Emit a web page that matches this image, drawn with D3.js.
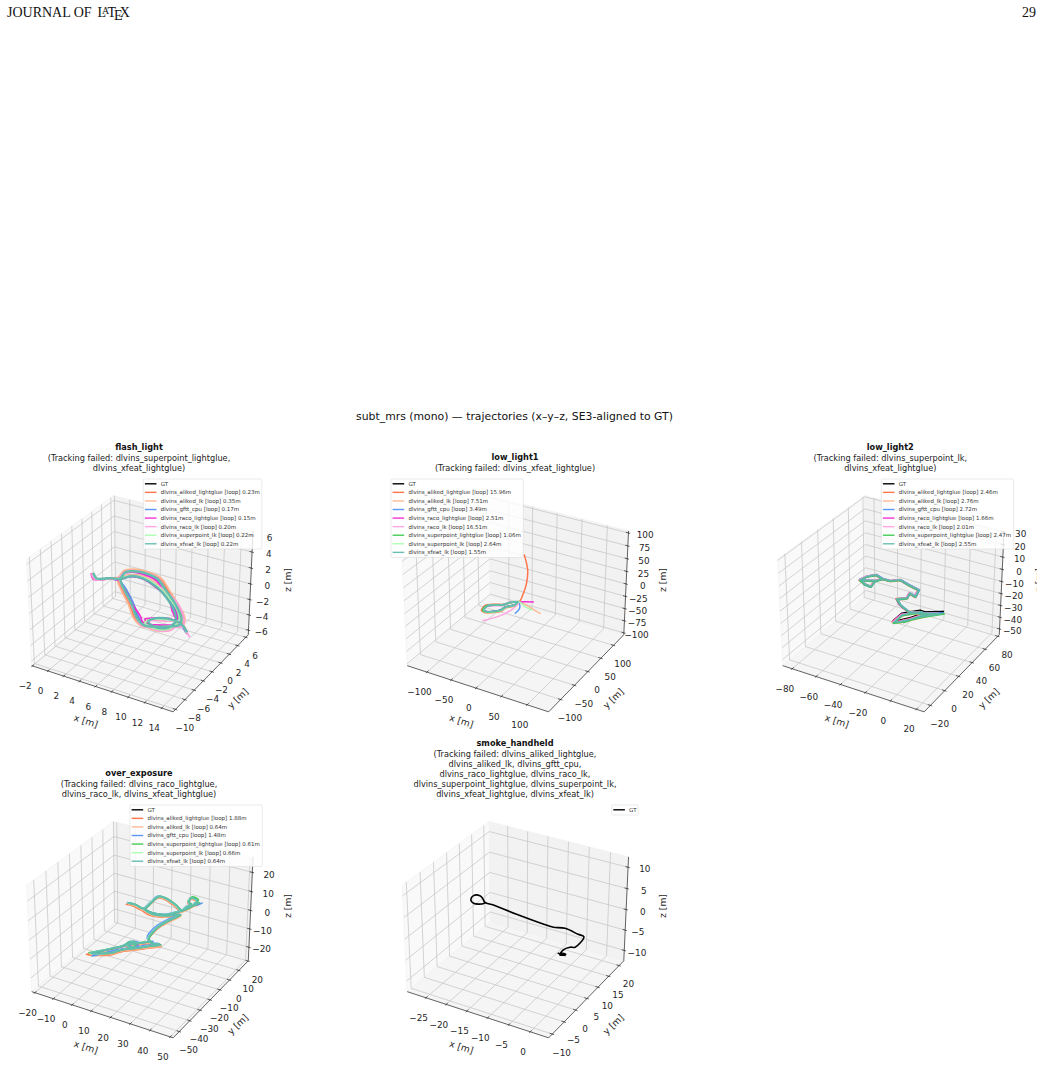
<!DOCTYPE html>
<html>
<head>
<meta charset="utf-8">
<script src="https://cdn.jsdelivr.net/npm/d3@7/dist/d3.min.js"></script>
<style>
  html, body { margin: 0; padding: 0; background: #fff; }
  svg { display: block; }
  text { font-family: "DejaVu Sans", sans-serif; }
</style>
</head>
<body>
<svg id="page" width="1042" height="1066"></svg>
<script>
// ---- Trajectory estimates: [x, y] in metres, height comes from the *Heights list or a third entry ----
const flashHeights = [.6,.3,.2,.2,.2,.8,.9,.8,.5,.2,-.3,-.8,-1,-1.1,-1.1,-1,-.8,-.4,-.1,.2,.5,.6,.5,.2,-.1,-.5,-.8,-.8,-.8,-.9,-1.1,-1.1,-.9,-1,-1.3];
const flashGT = [[-0.3,-0.9],[0.1,-1.2],[0.4,-1.1],[1.5,-0.2],[2.5,0.2],[2.8,0.8],[3.6,1.3],[4.8,1.7],[6.4,1.7],[8.0,0.5],[10.1,-1.0],[11.5,-2.3],[11.9,-3.2],[11.1,-3.8],[10.0,-4.5],[8.8,-5.1],[7.6,-4.5],[5.8,-2.7],[4.0,-1.1],[2.6,0.1],[3.1,0.4],[3.8,0.9],[5.1,1.2],[7.1,0.7],[8.9,-0.3],[10.7,-1.7],[11.5,-2.8],[10.4,-3.2],[9.1,-3.9],[8.7,-4.7],[10.0,-5.0],[11.3,-4.2],[11.6,-3.0],[12.1,-3.0],[13.1,-3.7]];
const flashAlikedLg = [[-0.3,-0.8],[0.1,-1.1],[0.5,-1.0],[1.5,-0.1],[2.3,0.4],[2.6,1.0],[3.5,1.6],[4.9,2.0],[6.6,2.0],[8.2,0.8],[10.3,-0.8],[11.8,-2.1],[12.2,-3.1],[11.3,-4.0],[10.1,-4.7],[8.7,-5.3],[7.4,-4.7],[5.6,-2.9],[3.8,-1.3],[2.4,0.1],[3.0,0.6],[3.7,1.1],[5.0,1.4],[7.2,0.9],[9.0,-0.1],[10.9,-1.5],[11.7,-2.7],[10.5,-3.4],[9.0,-4.1],[8.6,-4.9],[10.1,-5.2],[11.5,-4.4],[11.8,-3.1],[12.3,-3.1],[13.2,-3.9]];
const flashAlikedLk = [[-0.4,-0.9],[0,-1.3],[0.5,-1.2],[1.5,-0.3],[2.2,0.3],[2.5,1.1],[3.4,1.8],[4.9,2.2],[6.7,2.1],[8.3,0.9],[10.4,-0.7],[11.9,-2.0],[12.3,-3.0],[11.4,-4.1],[10.1,-4.8],[8.7,-5.5],[7.3,-4.8],[5.5,-3.0],[3.7,-1.4],[2.3,0.1],[2.9,0.6],[3.7,1.2],[5.1,1.5],[7.3,1.0],[9.1,0.0],[11.0,-1.4],[11.8,-2.7],[10.6,-3.5],[9.0,-4.2],[8.5,-5.0],[10.1,-5.4],[11.6,-4.5],[11.9,-3.2],[12.4,-3.2],[13.2,-3.9]];
const flashGftt = [[-0.3,-1.0],[0.2,-1.2],[0.4,-1.2],[1.4,-0.3],[2.5,0.1],[2.9,0.8],[3.7,1.2],[4.9,1.6],[6.5,1.6],[8.0,0.4],[10.0,-1.1],[11.4,-2.4],[11.8,-3.3],[11.0,-3.9],[9.9,-4.5],[8.9,-5.0],[7.7,-4.4],[5.9,-2.6],[4.1,-1.0],[2.7,0.1],[3.2,0.4],[3.9,0.8],[5.2,1.1],[7.1,0.6],[8.8,-0.4],[10.6,-1.8],[11.4,-2.9],[10.3,-3.3],[9.2,-3.8],[8.8,-4.6],[10.0,-4.9],[11.2,-4.1],[11.5,-3.1],[12.0,-3.1],[13.0,-3.8]];
const flashRacoLg = [[-0.4,-1.0],[0,-1.3],[0.4,-1.2],[1.6,-0.3],[2.6,0.2],[2.9,0.7],[3.6,1.2],[4.7,1.5],[6.3,1.5],[8.1,0.4],[10.2,-1.1],[11.3,-2.5],[11.9,-3.4],[11.0,-3.7],[9.9,-4.3],[8.5,-4.9],[7.8,-4.2],[6.0,-2.9],[4.2,-1.3],[2.7,0.0],[3.2,0.3],[3.8,0.8],[5.0,1.0],[7.0,0.5],[9.1,-0.5],[10.4,-2.0],[11.4,-3.0],[10.5,-3.0],[9.3,-3.6],[8.3,-4.2],[9.8,-4.7],[11.4,-4.0],[11.7,-3.0],[12.2,-3.2],[13.3,-4.0]];
const flashRacoLk = [[-0.4,-1.0],[0.2,-1.3],[0.5,-1.2],[1.5,-0.3],[2.3,0.3],[2.7,0.9],[3.5,1.5],[4.9,1.9],[6.5,1.9],[8.1,0.6],[10.4,-0.7],[11.9,-2.2],[12.4,-3.3],[11.4,-4.0],[10.1,-4.8],[8.6,-5.4],[7.5,-4.6],[5.7,-2.8],[3.9,-1.2],[2.5,0.2],[3.0,0.5],[3.8,1.0],[5.2,1.3],[7.3,0.8],[9.2,-0.1],[10.9,-1.4],[11.8,-2.6],[10.6,-3.5],[9.2,-4.2],[8.7,-5.0],[10.2,-5.3],[11.6,-4.5],[12.0,-3.3],[12.6,-3.5],[13.8,-4.4]];
const flashSpLk = [[-0.2,-0.9],[0.2,-1.1],[0.5,-1.0],[1.5,-0.2],[2.5,0.3],[2.9,0.9],[3.7,1.4],[4.9,1.8],[6.4,1.8],[8.0,0.6],[10.2,-0.9],[11.6,-2.2],[12.0,-3.1],[11.2,-3.8],[10.0,-4.6],[8.8,-5.2],[7.6,-4.6],[5.8,-2.8],[4.0,-1.2],[2.6,0.2],[3.1,0.5],[3.9,1.0],[5.1,1.3],[7.1,0.8],[8.9,-0.2],[10.8,-1.6],[11.6,-2.8],[10.4,-3.3],[9.0,-4.0],[8.7,-4.8],[10.1,-5.1],[11.4,-4.3],[11.7,-3.1],[12.2,-3.1],[13.1,-3.8]];
const flashXfLk = [[-0.2,-0.8],[0.2,-1.0],[0.5,-0.9],[1.6,-0.1],[2.5,0.3],[2.8,0.9],[3.6,1.4],[4.8,1.8],[6.4,1.8],[8.1,0.6],[10.2,-0.9],[11.6,-2.2],[12.0,-3.2],[11.2,-3.9],[10.1,-4.6],[8.8,-5.2],[7.6,-4.6],[5.8,-2.8],[4.0,-1.2],[2.7,0.1],[3.2,0.4],[3.8,0.9],[5.0,1.1],[7.0,0.6],[8.8,-0.4],[10.5,-1.8],[11.3,-2.9],[10.3,-3.1],[9.2,-3.7],[8.9,-4.5],[9.9,-4.8],[11.2,-4.1],[11.5,-3.0],[12.0,-3.0],[13.0,-3.6]];

const low1Heights = [];
const low1GT = [[7,-9],[7,-22],[-3,-37],[-4,-48],[-13,-60],[-26,-67],[-31,-64],[-33,-49],[-22,-39],[-10,-32],[-4,-19],[7,-9]];
const low1AlikedLg = [[8,-9],[9,-23],[-1,-39],[-2,-50],[-12,-63],[-26,-70],[-33,-67],[-36,-49],[-24,-37],[-10,-29],[-3,-16],[8,-9],[13,-2,15],[18,0,35],[19,2,60],[15,-3,90]];
const low1AlikedLk = [[7,-8],[8,-24],[-2,-38],[-3,-49],[-12,-62],[-25,-68],[-32,-65],[-34,-50],[-23,-39],[-9,-32],[-3,-18],[7,-8],[20,-11],[34,-16],[59,-25]];
const low1Gftt = [[6,-10],[6,-23],[-4,-37],[-5,-48],[-14,-60],[-27,-66],[-32,-63],[-33,-48],[-22,-38],[-11,-31],[-5,-19],[6,-10],[14,-17],[20,-28],[22,-46]];
const low1RacoLg = [[7,-10],[7,-21],[-3,-36],[-4,-47],[-13,-59],[-26,-66],[-30,-63],[-32,-49],[-21,-40],[-10,-33],[-4,-20],[7,-10],[18,-3],[30,3]];
const low1RacoLk = [[8,-10],[6,-23],[-2,-37],[-4,-49],[-14,-61],[-27,-67],[-31,-65],[-33,-50],[-23,-40],[-11,-33],[-4,-18],[8,-10],[11,-33],[5,-63],[-13,-95]];
const low1SpLg = [[7,-9],[7,-23],[-3,-38],[-4,-49],[-13,-61],[-26,-68],[-32,-65],[-34,-49],[-22,-40],[-10,-32],[-4,-20],[7,-9]];
const low1SpLk = [[7,-8],[7,-22],[-2,-37],[-3,-48],[-12,-60],[-25,-67],[-30,-64],[-32,-48],[-21,-38],[-9,-31],[-3,-18],[7,-8],[16,-12],[25,-18],[41,-22]];
const low1XfLk = [[6,-9],[7,-21],[-3,-36],[-5,-48],[-13,-59],[-25,-66],[-30,-63],[-32,-48],[-21,-38],[-10,-31],[-4,-19],[6,-9]];

const low2Heights = [-5,-5,-5,-5,-5,-5,-5,-5,-5,-5,-6,-7,-9,-11,-13,-14,-15,-16,-20,-24,-26,-28,-28,-28,-28,-28,-28,-28,-28];
const low2GT = [[-58.4,27.5],[-56.8,33.9],[-52.3,39.2],[-45.4,36.5],[-48.4,31.5],[-46.9,23.2],[-52.1,24.1],[-58.4,27.5],[-48.4,31.5],[-45.4,36.5],[-40.1,38.2],[-35.6,44.4],[-28.6,44.1],[-20.6,44.4],[-19.7,38.1],[-26.4,41.7],[-25.3,36.3],[-31.8,33.4],[-29.0,33.2],[-22.6,33.9],[-17.0,38.3,-25],[-3.1,49.8,-26.6],[-14.2,38.3,-26.6],[-24.1,24.9,-26.6],[-27.8,21.9,-26.6],[-27.7,33.4,-26.6],[-18.4,43.3,-26.6],[-13.3,43.0,-26.6],[-22.1,26.1,-26.6]];
const low2AlikedLg = [[-59,27.9],[-57.2,34.5],[-52.6,39.8],[-45.7,37],[-48.9,31.9],[-47.4,23.5],[-52.6,24.4],[-59,27.9],[-48.9,31.9],[-45.7,37],[-40.5,38.8],[-36,45],[-28.9,44.7],[-20.8,45],[-19.2,38.4],[-26,42.3],[-25,36.9],[-32.4,33.7],[-29.5,33.6],[-23.2,34.5],[-17.6,38.9],[-6,48.6],[-14.8,38.9],[-24.8,25.4],[-28.8,22],[-28.2,33.9],[-18.9,43.8],[-13.9,43.6],[-22.9,26.5]];
const low2AlikedLk = [[-58.9,26.8],[-57.4,33.4],[-52.7,38.8],[-45.1,35.9],[-48,30.8],[-46.3,22.4],[-51.7,23.4],[-58.9,26.8],[-48,30.8],[-45.1,35.9],[-39.6,37.5],[-35,43.7],[-27.9,43.4],[-19.6,43.5],[-18.5,36.9],[-25.6,40.8],[-24.5,35.2],[-31,32.2],[-27,31.8],[-20.4,32.4],[-15.8,37.2],[-5.9,47.4],[-13.2,37.2],[-23.2,24],[-27.4,21.1],[-26.8,32.6],[-17.6,42.4],[-12.6,42.2],[-21.3,25.2]];
const low2Gftt = [[-59.2,28.5],[-57,35],[-52,40],[-44.7,37.2],[-48,32],[-46.5,22.5],[-52.4,23.3],[-59.2,28.5],[-48,32],[-44.7,37.2],[-39.6,38.8],[-35.2,45],[-28,44.8],[-20,45],[-19,38.7],[-25.9,42.2],[-24.9,36.7],[-31.4,33.8],[-28.6,33.6],[-22.2,34.3],[-16.6,38.7],[-3.6,50.2],[-13.8,38.7],[-23.7,25.3],[-27.4,22.3],[-27.3,33.8],[-18,43.7],[-12.9,43.4],[-21.7,26.5]];
const low2RacoLg = [[-58.6,27.2],[-57,33.5],[-52.5,38.9],[-45.6,36.2],[-48.7,31.2],[-47.1,23.5],[-52.3,24.4],[-58.6,27.2],[-48.7,31.2],[-45.6,36.2],[-40.3,37.9],[-35.8,44],[-28.8,43.8],[-20.9,44.1],[-20,37.8],[-26.6,41.4],[-25.6,36],[-32,33.2],[-29.3,33],[-23,33.6],[-17.3,38],[-6,47.5],[-14.6,38],[-24.6,25.6],[-28.6,23],[-28.4,34],[-19,42.9],[-14,42.6],[-22.7,26.8]];
const low2RacoLk = [[-58.8,28],[-57.2,34.3],[-52.6,39.5],[-45.8,36.8],[-48.7,31.8],[-47.2,23.6],[-52.4,24.5],[-58.8,28],[-48.7,31.8],[-45.8,36.8],[-40.4,38.5],[-35.9,44.7],[-28.9,44.4],[-21,44.7],[-20,38.4],[-26.7,42],[-25.6,36.6],[-32.1,33.7],[-29.3,33.5],[-22.9,34.2],[-17.3,38.6],[-6.4,48],[-14.5,38.6],[-24.4,25.3],[-28.2,22.3],[-28.1,33.8],[-18.7,43.6],[-13.6,43.3],[-22.5,26.5]];
const low2SpLg = [[-58.2,26.8],[-56.5,33.3],[-52,38.7],[-45,36],[-47.9,30.8],[-46.4,22.6],[-51.7,23.4],[-58.2,26.8],[-47.9,30.8],[-45,36],[-39.7,37.7],[-35.2,43.9],[-28.1,43.6],[-20,43.8],[-19.1,37.5],[-25.9,41.1],[-24.8,35.7],[-31.4,32.6],[-28.2,32.6],[-21.8,33.3],[-16.1,37.7],[-2,49.3],[-13.4,37.5],[-23.2,24.2],[-27.1,20.7],[-26.8,32.8],[-17.6,42.6],[-12.3,42.4],[-21.2,25.3]];
const low2XfLk = [[-58.1,27.7],[-56.5,34.1],[-52.1,39.4],[-45.1,36.7],[-48.2,31.7],[-46.6,23.4],[-51.8,24.3],[-58.1,27.7],[-48.2,31.7],[-45.1,36.7],[-39.8,38.4],[-35.3,44.6],[-28.3,44.3],[-20.3,44.6],[-19.4,38.3],[-26.1,41.9],[-25,36.5],[-31.5,33.6],[-28.7,33.4],[-22.3,34.1],[-16.7,38.5],[-4,48.4],[-13.9,38.5],[-23.8,25.1],[-27.5,22.1],[-27.4,33.6],[-18.1,43.5],[-13,43.2],[-21.8,26.3]];

const overHeights = [10,10,10,10,10,10,10,10,10,10,10,10,10,10,10,10,10,10,10,10,10,10,10,8,3,-3,-9,-13,-15,-15,-15,-15,-15,-15,-15,-15,-15,-15,-15,-15,-15,-15,-15,-15];
const overGT = [[8.3,-18.8],[11.7,-18.6],[16.8,-20.0],[16.8,-13.7],[17.0,-6.2],[20.3,-6.0],[27.3,-9.3],[32.5,-12.7],[32.5,-8.0],[35.0,-4.6],[35.6,-2.4],[34.0,-6.0],[31.0,-3.4],[30.8,0.3],[33.9,-0.8],[34.4,-5.0],[32.5,-12.7],[31.1,-15.0],[27.8,-19.9],[21.9,-21.5],[16.9,-20.2],[22.4,-22.3],[28.2,-20.7],[31.9,-13.2],[26.1,-11.7],[19.5,-10.6],[14.8,-8.4],[12.4,-7.3],[14.0,-7.8],[18.5,-6.9],[13.9,-11.5],[10.6,-15.2],[5.4,-20.1],[2.3,-25.5],[-5.6,-30.2],[-2.7,-26.1],[1.3,-20.8],[4.1,-16.3],[5.0,-11.5],[7.7,-11.5],[8.6,-16.4],[5.2,-14.9],[9.0,-10.8],[13.0,-6.6]];
const overAlikedLg = [[8,-20],[11.5,-19.8],[16.6,-21],[16.8,-14.8],[17.4,-7.4],[20.7,-7],[27.5,-10.2],[32.6,-13.4],[32.8,-8.8],[35.3,-5.6],[36,-3.4],[34.2,-6.8],[31.2,-4.2],[31,-0.5],[34.1,-1.6],[34.6,-5.8],[32.7,-13.4],[31.2,-15.8],[27.8,-21],[21.7,-22.7],[16.7,-21.2],[22.2,-23.6],[28.2,-22],[32.1,-14.2],[26.6,-12.8],[20.1,-11.7],[15.4,-9.6],[13,-8.6],[14.8,-9],[19.6,-7.8],[15,-12.5],[11.6,-16],[6.2,-21.4],[3,-27],[-6.5,-32],[-3.4,-27.4],[0.8,-22.4],[3.6,-17.8],[5.4,-13],[8.6,-12.6],[9.6,-17.8],[5.8,-16.2],[9.8,-12],[14,-7.8]];
const overAlikedLk = [[8.8,-19.4],[12.2,-19.3],[17.3,-20.9],[17.4,-14.4],[17.6,-7],[20.9,-6.7],[27.9,-10],[33.3,-13.2],[33.3,-8.7],[35.7,-5.4],[36.3,-3.1],[34.6,-6.6],[31.6,-4],[31.4,-0.4],[34.5,-1.5],[35,-5.6],[33.2,-13.3],[31.8,-15.7],[28.4,-20.6],[22.4,-22.2],[17.3,-20.9],[23,-23.1],[28.9,-21.5],[32.7,-14],[26.9,-12.5],[20.3,-11.4],[15.4,-9.2],[13,-8],[14.7,-8.5],[19.4,-7.7],[14.8,-12.2],[11.4,-15.9],[6,-20.9],[2.9,-26.4],[-5,-31],[-2,-26.9],[2,-21.6],[4.8,-17],[5.8,-12.3],[8.4,-12.2],[9.3,-17.1],[5.9,-15.6],[9.7,-11.5],[13.8,-7.3]];
const overGftt = [[7.7,-18.2],[11.2,-18.1],[16.4,-19.6],[16.4,-13.2],[16.6,-5.8],[19.9,-5.6],[26.9,-8.9],[32.1,-12.2],[32.2,-7.4],[35.8,-3.8],[37,-1.4],[34.8,-5.2],[30.7,-2.9],[30.4,0.8],[33.6,-0.2],[34,-4.5],[32.1,-12.2],[30.7,-14.5],[27.4,-19.3],[21.5,-21],[16.5,-19.7],[22,-21.8],[27.8,-20.2],[31.4,-12.7],[25.2,-11],[18.5,-9.8],[13.6,-7.4],[11.4,-6.4],[13.2,-7],[17.6,-6.1],[12.9,-10.7],[9.7,-14.6],[4.7,-19.4],[0.9,-25],[-3.5,-32],[-1.7,-25.2],[2.2,-19.9],[5.2,-15.2],[6.2,-10.2],[9,-10.4],[9.6,-15.6],[6.2,-13.8],[10.2,-9.7],[14,-5.6]];
const overSpLg = [[8.6,-18.4],[12,-18.2],[17.1,-19.6],[17.1,-13.3],[17.3,-5.8],[20.6,-5.6],[27.6,-8.9],[32.8,-12.3],[32.9,-7.4],[35.4,-4],[36,-1.8],[34.4,-5.4],[30.7,-2.4],[30.4,1.6],[34.1,0.5],[34.8,-4.3],[32.8,-12.3],[31.4,-14.6],[28.1,-19.5],[22.2,-21.1],[17.2,-19.8],[22.7,-21.9],[28.5,-20.3],[32.2,-12.8],[26.4,-11.3],[19.8,-10.2],[15.1,-8],[12.7,-6.9],[14.3,-7.4],[18.8,-6.5],[14.2,-11.1],[10.9,-14.8],[5.7,-19.7],[2.6,-25.1],[-6.4,-30],[-2.4,-25.7],[1.6,-20.4],[4.4,-15.9],[5.3,-11.1],[8,-11.1],[8.9,-16],[5.5,-14.5],[9.3,-10.4],[13.3,-6.2]];
const overSpLk = [[8.1,-18.6],[11.5,-18.3],[16.6,-19.8],[16.6,-13.5],[16.8,-6],[20.1,-5.8],[27.1,-9.1],[32.3,-12.5],[32.3,-7.8],[34.8,-4.4],[35.4,-2.2],[33.8,-5.8],[30.8,-3.2],[30.6,0.5],[33.7,-0.6],[34.2,-4.8],[32.3,-12.5],[30.9,-14.8],[27.6,-19.7],[21.7,-21.3],[16.7,-20],[22.2,-22.1],[28,-20.5],[31.7,-13],[25.9,-11.5],[19.3,-10.4],[14.6,-8.2],[12.2,-7.1],[13.8,-7.6],[18.3,-6.7],[13.7,-11.3],[10.4,-15],[5.2,-19.9],[2.1,-25.3],[-5.8,-30.4],[-2.9,-25.9],[1.1,-20.6],[3.9,-16.1],[4.8,-11.3],[7.5,-11.3],[8.4,-16.2],[5,-14.7],[8.8,-10.6],[12.8,-6.4]];
const overXfLk = [[8.4,-18.4],[11.8,-18.2],[16.9,-19.6],[17,-13.4],[17.2,-5.9],[20.5,-5.7],[27.4,-9],[32.6,-12.4],[32.7,-7.7],[35.1,-4.3],[35.7,-2.1],[34.1,-5.7],[31.1,-3.1],[30.9,0.6],[34,-0.5],[34.5,-4.7],[32.6,-12.4],[31.2,-14.7],[27.9,-19.6],[22,-21.2],[17,-19.9],[22.5,-22],[28.3,-20.4],[32,-12.9],[26.2,-11.4],[19.6,-10.3],[14.9,-8.1],[12.5,-7],[14.1,-7.5],[18.6,-6.6],[14,-11.2],[10.7,-14.9],[5.5,-19.8],[2.4,-25.2],[-5.5,-29.9],[-2.6,-25.8],[1.4,-20.5],[4.2,-16],[5.1,-11.2],[7.8,-11.2],[8.7,-16.1],[5.3,-14.6],[9.1,-10.5],[13.1,-6.3]];

const smokeHeights = [];
const smokeGT = [[0.3,-0.7],[1.9,-0.8],[0.9,-0.3],[1.8,-0.3],[0.9,-1.1],[0.5,0.9],[1.2,2.6],[2.1,3.1],[1.7,7.7],[0.2,8.0],[-3.3,8.8],[-5.6,8.0],[-6.8,8.0],[-15.0,8.9],[-21.3,9.9],[-23.5,10.0],[-24.9,11.3],[-26.0,12.0],[-27.2,11.3],[-26.7,9.4],[-25.4,8.4],[-23.5,9.3],[-23.5,10.0]];

// ---- Per-sequence legend errors (metres) and series tables ----
const flashErrors = ["0.23","0.35","0.17","0.15","0.20","0.22","0.22"];
const low1Errors  = ["15.96","7.51","3.49","2.51","16.51","1.06","2.64","1.55"];
const low2Errors  = ["2.46","2.76","2.72","1.66","2.01","2.47","2.55"];
const overErrors  = ["1.88","0.64","1.48","0.61","0.66","0.64"];

const methodColors = {
  dlvins_aliked_lightglue: "#ff6a3c",
  dlvins_aliked_lk: "#ffb48c",
  dlvins_gftt_cpu: "#4f8ff7",
  dlvins_raco_lightglue: "#f51fd2",
  dlvins_raco_lk: "#ff9fe0",
  dlvins_superpoint_lightglue: "#35c948",
  dlvins_superpoint_lk: "#a5ffaa",
  dlvins_xfeat_lk: "#5bb9ad"
};

const flashMethods = ["dlvins_aliked_lightglue","dlvins_aliked_lk","dlvins_gftt_cpu","dlvins_raco_lightglue","dlvins_raco_lk","dlvins_superpoint_lk","dlvins_xfeat_lk"];
const flashTracks = [flashAlikedLg, flashAlikedLk, flashGftt, flashRacoLg, flashRacoLk, flashSpLk, flashXfLk];
const low1Methods = ["dlvins_aliked_lightglue","dlvins_aliked_lk","dlvins_gftt_cpu","dlvins_raco_lightglue","dlvins_raco_lk","dlvins_superpoint_lightglue","dlvins_superpoint_lk","dlvins_xfeat_lk"];
const low1Tracks = [low1AlikedLg, low1AlikedLk, low1Gftt, low1RacoLg, low1RacoLk, low1SpLg, low1SpLk, low1XfLk];
const low2Methods = ["dlvins_aliked_lightglue","dlvins_aliked_lk","dlvins_gftt_cpu","dlvins_raco_lightglue","dlvins_raco_lk","dlvins_superpoint_lightglue","dlvins_xfeat_lk"];
const low2Tracks = [low2AlikedLg, low2AlikedLk, low2Gftt, low2RacoLg, low2RacoLk, low2SpLg, low2XfLk];
const overMethods = ["dlvins_aliked_lightglue","dlvins_aliked_lk","dlvins_gftt_cpu","dlvins_superpoint_lightglue","dlvins_superpoint_lk","dlvins_xfeat_lk"];
const overTracks = [overAlikedLg, overAlikedLk, overGftt, overSpLg, overSpLk, overXfLk];

// ---- Tick values per panel ----
const flashTicks = { x: d3.range(-2, 15, 2), y: d3.range(-10, 7, 2), z: d3.range(-6, 7, 2) };
const low1Ticks  = { x: d3.range(-100, 101, 50), y: d3.range(-100, 101, 50), z: d3.range(-100, 101, 25) };
const low2Ticks  = { x: d3.range(-80, 21, 20), y: d3.range(-20, 81, 20), z: d3.range(-50, 31, 10) };
const overTicks  = { x: d3.range(-20, 51, 10), y: d3.range(-50, 21, 10), z: d3.range(-20, 21, 10) };
const smokeTicks = { x: d3.range(-25, 1, 5), y: d3.range(-10, 21, 5), z: d3.range(-10, 11, 5) };

// ---- Panels: axis limits, screen anchor, heading lines, legend box, line weights ----
const panels = [
  { title: "flash_light", failed: ["(Tracking failed: dlvins_superpoint_lightglue,", "dlvins_xfeat_lightglue)"],
    titleX: 139, titleY: 450, anchor: [142, 598.5], lim: { x: [-2.1, 15.35], y: [-10.5, 6.6], z: [-6.6, 6.6] },
    ticks: flashTicks, gt: flashGT, heights: flashHeights, methods: flashMethods, tracks: flashTracks, errors: flashErrors,
    weight: 1.8, topWeight: 2.4, curve: d3.curveCatmullRom.alpha(0.5), legend: { x: 143.3, y: 479, w: 118.5 } },
  { title: "low_light1", failed: ["(Tracking failed: dlvins_xfeat_lightglue)"],
    titleX: 515, titleY: 460, anchor: [517.5, 598.5], lim: { x: [-141, 141], y: [-142, 142], z: [-104, 104] },
    ticks: low1Ticks, gt: low1GT, heights: low1Heights, methods: low1Methods, tracks: low1Tracks, errors: low1Errors,
    weight: 1.5, topWeight: 1.9, curve: d3.curveCatmullRom.alpha(0.5), legend: { x: 391, y: 479, w: 132.3 } },
  { title: "low_light2", failed: ["(Tracking failed: dlvins_superpoint_lk,", "dlvins_xfeat_lightglue)"],
    titleX: 890.3, titleY: 450, anchor: [893, 598.5], lim: { x: [-88, 26], y: [-28.5, 82.4], z: [-55, 31] },
    ticks: low2Ticks, gt: low2GT, heights: low2Heights, methods: low2Methods, tracks: low2Tracks, errors: low2Errors,
    weight: 1.6, topWeight: 1.8, curve: d3.curveLinear, legend: { x: 881.3, y: 479, w: 132.4 } },
  { title: "over_exposure", failed: ["(Tracking failed: dlvins_raco_lightglue,", "dlvins_raco_lk, dlvins_xfeat_lightglue)"],
    titleX: 139, titleY: 776, anchor: [142, 924.5], lim: { x: [-21.7, 51.4], y: [-55.7, 20.3], z: [-27.5, 28] },
    ticks: overTicks, gt: overGT, heights: overHeights, methods: overMethods, tracks: overTracks, errors: overErrors,
    weight: 1.6, topWeight: 2, curve: d3.curveCatmullRom.alpha(0.5), legend: { x: 130, y: 805, w: 132.3 } },
  { title: "smoke_handheld", failed: ["(Tracking failed: dlvins_aliked_lightglue,", "dlvins_aliked_lk, dlvins_gftt_cpu,", "dlvins_raco_lightglue, dlvins_raco_lk,", "dlvins_superpoint_lightglue, dlvins_superpoint_lk,", "dlvins_xfeat_lightglue, dlvins_xfeat_lk)"],
    titleX: 515, titleY: 746, anchor: [517.5, 924.5], lim: { x: [-29.7, 4.2], y: [-11.5, 22.3], z: [-12.6, 12.4] },
    ticks: smokeTicks, gt: smokeGT, heights: smokeHeights, methods: [], tracks: [], errors: [],
    weight: 1.5, topWeight: 1.5, curve: d3.curveCatmullRom.alpha(0.5), legend: { x: 611.7, y: 805, w: 26.6 } }
];

// ---- Camera of a 3-D axes box: elevation 30, azimuth -60, box aspect 4:4:3 ----
const box = [1.1905, 1.1905, 0.8929];
const half = box.map(v => v / 2);
const rad = Math.PI / 180, elev = 30 * rad, azim = -60 * rad;
const camW = [Math.cos(elev) * Math.cos(azim), Math.cos(elev) * Math.sin(azim), Math.sin(elev)];
const camLen = Math.hypot(camW[0], camW[1]);
const camU = [-camW[1] / camLen, camW[0] / camLen, 0];
const camV = [camW[1] * camU[2] - camW[2] * camU[1], camW[2] * camU[0] - camW[0] * camU[2], camW[0] * camU[1] - camW[1] * camU[0]];
const dot = (a, b) => a[0] * b[0] + a[1] * b[1] + a[2] * b[2];
const camDist = 10;

const svg = d3.select("#page");
svg.append("defs").append("clipPath").attr("id", "pageClip").append("rect").attr("width", 1037).attr("height", 1066);
const root = svg.append("g").attr("clip-path", "url(#pageClip)");

const fmt = v => (v < 0 ? "\u2212" : "") + Math.abs(v);

function drawPanel(p) {
  const g = root.append("g").attr("class", "panel");
  const sx = d3.scaleLinear().domain(p.lim.x).range([0, box[0]]);
  const sy = d3.scaleLinear().domain(p.lim.y).range([0, box[1]]);
  const sz = d3.scaleLinear().domain(p.lim.z).range([0, box[2]]);
  const screenX = d3.scaleLinear().domain([0, 1]).range([p.anchor[0], p.anchor[0] + 1361]);
  const screenY = d3.scaleLinear().domain([0, 1]).range([p.anchor[1], p.anchor[1] - 1360]);
  const project = (x, y, z) => {
    const q = [sx(x) - half[0], sy(y) - half[1], sz(z) - half[2]];
    const d = camDist - dot(q, camW);
    return [screenX(dot(q, camU) / d), screenY(dot(q, camV) / d)];
  };
  const line3 = d3.line().x(d => d[0]).y(d => d[1]);
  const path3 = pts => line3(pts.map(a => project(a[0], a[1], a[2])));
  const curve3 = d3.line().x(d => d[0]).y(d => d[1]).curve(p.curve);

  const [x0, x1] = p.lim.x, [y0, y1] = p.lim.y, [z0, z1] = p.lim.z;

  // Back walls and floor
  const panes = [
    { c: [[x0,y0,z0],[x0,y1,z0],[x0,y1,z1],[x0,y0,z1]], f: "#f9f9f9" },
    { c: [[x0,y1,z0],[x1,y1,z0],[x1,y1,z1],[x0,y1,z1]], f: "#f2f2f2" },
    { c: [[x0,y0,z0],[x1,y0,z0],[x1,y1,z0],[x0,y1,z0]], f: "#f5f5f5" }
  ];
  g.selectAll("path.pane").data(panes).join("path").attr("class", "pane")
    .attr("d", d => path3(d.c) + "Z").attr("fill", d => d.f).attr("stroke", "#f0f0f0").attr("stroke-width", 0.6);

  // Grid lines bent across the walls
  const grid = [];
  p.ticks.x.forEach(t => grid.push([[t,y0,z0],[t,y1,z0],[t,y1,z1]]));
  p.ticks.y.forEach(t => grid.push([[x1,t,z0],[x0,t,z0],[x0,t,z1]]));
  p.ticks.z.forEach(t => grid.push([[x0,y0,t],[x0,y1,t],[x1,y1,t]]));
  g.selectAll("path.grid").data(grid).join("path").attr("class", "grid")
    .attr("d", path3).attr("fill", "none").attr("stroke", "#c6c6c6").attr("stroke-width", 0.75);

  // Axis edges
  const edges = [[[x0,y0,z0],[x1,y0,z0]], [[x1,y0,z0],[x1,y1,z0]], [[x1,y1,z0],[x1,y1,z1]]];
  g.selectAll("path.edge").data(edges).join("path").attr("class", "edge")
    .attr("d", path3).attr("fill", "none").attr("stroke", "#222").attr("stroke-width", 0.7);

  // Tick marks and tick labels
  const dx = (x1 - x0) , dy = (y1 - y0);
  const tickMarks = [];
  const tickLabels = [];
  p.ticks.x.forEach(t => {
    tickMarks.push([[t, y0 + 0.018 * dy, z0], [t, y0 - 0.012 * dy, z0]]);
    const a = project(t, y0, z0);
    tickLabels.push({ t, px: a[0] - 7.3, py: a[1] + 20 });
  });
  p.ticks.y.forEach(t => {
    tickMarks.push([[x1 - 0.018 * dx, t, z0], [x1 + 0.012 * dx, t, z0]]);
    const a = project(x1, t, z0);
    tickLabels.push({ t, px: a[0] + 9.3, py: a[1] + 18.3 });
  });
  p.ticks.z.forEach(t => {
    tickMarks.push([[x1 - 0.018 * dx, y1, t], [x1 + 0.012 * dx, y1, t]]);
    const a = project(x1, y1, t);
    tickLabels.push({ t, px: a[0] + 16.7 - (t < 0 ? 4 : 0), py: a[1] + 2 });
  });
  g.selectAll("path.tick").data(tickMarks).join("path").attr("class", "tick")
    .attr("d", path3).attr("stroke", "#222").attr("stroke-width", 0.7);
  g.selectAll("text.tl").data(tickLabels).join("text").attr("class", "tl")
    .attr("x", d => d.px).attr("y", d => d.py).attr("dy", "0.36em")
    .attr("text-anchor", "middle").attr("font-size", 8.9).attr("fill", "#262626")
    .text(d => fmt(d.t));

  // Axis titles
  const axisTitles = [
    { s: "x [m]", dx: -56, dy: 122.5, r: 18 },
    { s: "y [m]", dx: 95.7, dy: 99.8, r: -44 },
    { s: "z [m]", dx: 145.3, dy: -18.5, r: -90 }
  ];
  g.selectAll("text.al").data(axisTitles).join("text").attr("class", "al")
    .attr("transform", d => `translate(${p.anchor[0] + d.dx},${p.anchor[1] + d.dy}) rotate(${d.r})`)
    .attr("dy", "0.36em").attr("text-anchor", "middle").attr("font-size", 9.2).attr("fill", "#262626")
    .text(d => d.s);

  // Trajectories: ground truth first, estimates over it
  const toPoints = track => track.map((a, i) => [a[0], a[1], a.length > 2 ? a[2] : (p.heights[i] ?? 0)]);
  const lines = [{ name: "GT", color: "#000", w: 1.6, op: 1, pts: toPoints(p.gt) }];
  p.methods.forEach((m, i) => lines.push({ name: m, color: methodColors[m], w: m === "dlvins_xfeat_lk" ? p.topWeight : p.weight, op: 0.92, pts: toPoints(p.tracks[i]) }));
  g.selectAll("path.traj").data(lines).join("path").attr("class", "traj")
    .attr("d", d => curve3(d.pts.map(a => project(a[0], a[1], a[2])))).attr("fill", "none")
    .attr("stroke", d => d.color).attr("stroke-width", d => d.w).attr("stroke-opacity", d => d.op)
    .attr("stroke-linejoin", "round").attr("stroke-linecap", "round");

  // Heading
  const head = root.append("g");
  head.append("text").attr("x", p.titleX).attr("y", p.titleY).attr("text-anchor", "middle")
    .attr("font-size", 8.2).attr("font-weight", "bold").attr("fill", "#111").text(p.title);
  head.selectAll("text.sub").data(p.failed).join("text").attr("class", "sub")
    .attr("x", p.titleX).attr("y", (d, i) => p.titleY + (p.failed.length > 2 ? 1.4 + 10 * (i + 1) : 10.5 * (i + 1))).attr("text-anchor", "middle")
    .attr("font-size", 8.2).attr("fill", "#222").text(d => d);

  // Legend box
  const rows = [{ label: "GT", color: "#000" }].concat(p.methods.map((m, i) => ({ label: `${m} [loop] ${p.errors[i]}m`, color: methodColors[m] })));
  const rowGap = 8.57;
  const lg = root.append("g").attr("transform", `translate(${p.legend.x},${p.legend.y})`);
  lg.append("rect").attr("width", p.legend.w).attr("height", 10 + rowGap * (rows.length - 1))
    .attr("rx", 1).attr("fill", "#fff").attr("fill-opacity", 0.82).attr("stroke", "#d6d6d6").attr("stroke-width", 0.5);
  lg.selectAll("line").data(rows).join("line")
    .attr("x1", 1.6).attr("x2", 13.2).attr("y1", (d, i) => 4.8 + rowGap * i).attr("y2", (d, i) => 4.8 + rowGap * i)
    .attr("stroke", d => d.color).attr("stroke-width", 1.4).attr("stroke-opacity", d => d.color === "#000" ? 1 : 0.92);
  lg.selectAll("text").data(rows).join("text")
    .attr("x", 17.4).attr("y", (d, i) => 4.8 + rowGap * i).attr("dy", "0.36em")
    .attr("font-size", 5.5).attr("fill", "#333").text(d => d.label);
}

panels.forEach(drawPanel);

// Figure heading
root.append("text").attr("x", 514.5).attr("y", 420).attr("text-anchor", "middle")
  .attr("font-size", 10.85).attr("fill", "#111").text("subt_mrs (mono) \u2014 trajectories (x\u2013y\u2013z, SE3-aligned to GT)");

// Running page header: the logo letters sit at their own heights inside one text element
const headerBits = [
  { s: "JOURNAL OF", x: 7, y: 16.5, size: 14 },
  { s: "L", x: 97.5, y: 16.5, size: 14 },
  { s: "A", x: 102, y: 13.8, size: 9.8 },
  { s: "T", x: 107.5, y: 16.5, size: 14 },
  { s: "E", x: 114, y: 19.6, size: 14 },
  { s: "X", x: 119.7, y: 16.5, size: 14 }
];
const header = svg.append("text").style("font-family", "'Liberation Serif', serif").attr("fill", "#111");
header.selectAll("tspan").data(headerBits).join("tspan")
  .attr("x", d => d.x).attr("y", d => d.y).attr("font-size", d => d.size).text(d => d.s);
svg.append("text").attr("x", 1036).attr("y", 16.5).attr("text-anchor", "end").attr("font-size", 14)
  .style("font-family", "'Liberation Serif', serif").attr("fill", "#111").text("29");
</script>
</body>
</html>
